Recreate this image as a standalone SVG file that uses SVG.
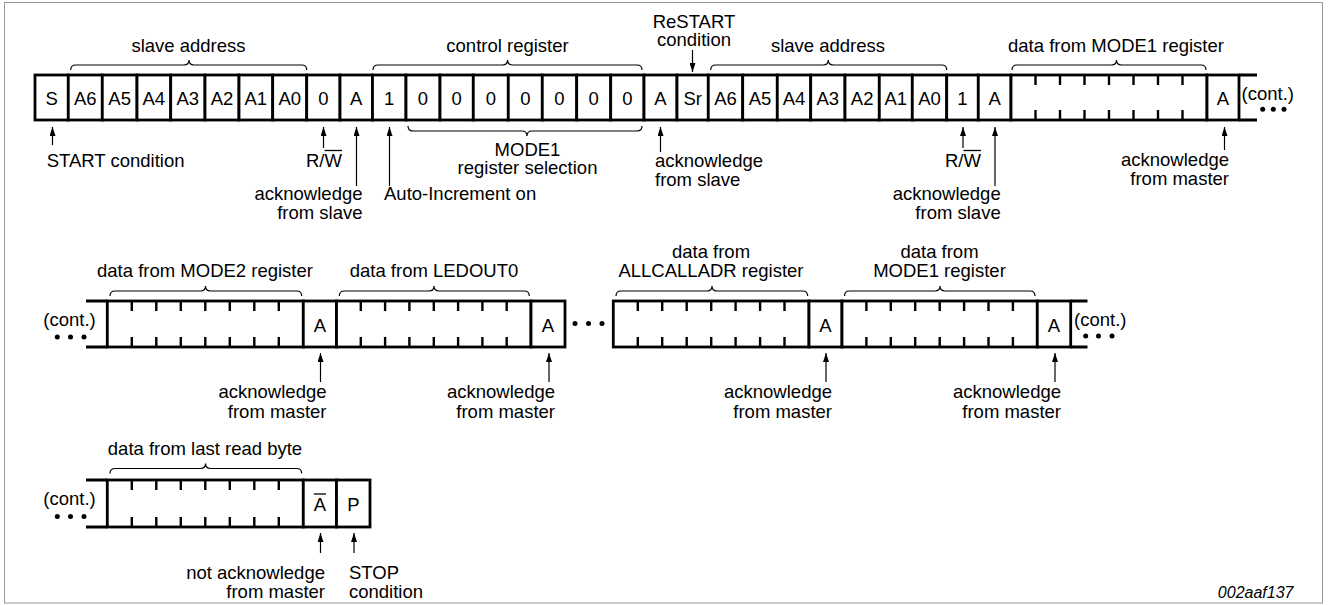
<svg xmlns="http://www.w3.org/2000/svg" width="1328" height="605" viewBox="0 0 1328 605">
<style>
.c{fill:#fff;stroke:#000;stroke-width:2.8}
.ln{stroke:#000;stroke-width:2.8;fill:none}
.tk{stroke:#000;stroke-width:2.4}
.t{font-family:"Liberation Sans",Arial,sans-serif;font-size:18.5px;fill:#000}
.m{text-anchor:middle}
.e{text-anchor:end}
.br{fill:none;stroke:#000;stroke-width:1.2}
.ar{stroke:#000;stroke-width:1.2;fill:none;marker-end:url(#ah)}
.ol{stroke:#000;stroke-width:1.3}
.d{fill:#000}
</style>
<defs>
<marker id="ah" viewBox="0 0 9 6" refX="9" refY="3" markerWidth="9" markerHeight="6" markerUnits="userSpaceOnUse" orient="auto"><path d="M0,0 L9,3 L0,6 z" fill="#000"/></marker>
</defs>
<rect x="4.5" y="2.5" width="1318" height="600.5" fill="#fff" stroke="#999" stroke-width="1"/>

<!-- Row 1 -->
<g id="row1">
<g id="r1-S"><rect class="c" x="35" y="75" width="33.3" height="45"/><text class="t m" x="51.65" y="105">S</text></g>
<g id="r1-A6"><rect class="c" x="68.3" y="75" width="34" height="45"/><text class="t m" x="85.3" y="105">A6</text></g>
<g id="r1-A5"><rect class="c" x="102.3" y="75" width="34.7" height="45"/><text class="t m" x="119.65" y="105">A5</text></g>
<g id="r1-A4"><rect class="c" x="137" y="75" width="33.7" height="45"/><text class="t m" x="153.85" y="105">A4</text></g>
<g id="r1-A3"><rect class="c" x="170.7" y="75" width="34.3" height="45"/><text class="t m" x="187.85" y="105">A3</text></g>
<g id="r1-A2"><rect class="c" x="205" y="75" width="34" height="45"/><text class="t m" x="222" y="105">A2</text></g>
<g id="r1-A1"><rect class="c" x="239" y="75" width="33.7" height="45"/><text class="t m" x="255.85" y="105">A1</text></g>
<g id="r1-A0"><rect class="c" x="272.7" y="75" width="34" height="45"/><text class="t m" x="289.7" y="105">A0</text></g>
<g id="r1-RW"><rect class="c" x="306.7" y="75" width="33.3" height="45"/><text class="t m" x="323.35" y="105">0</text></g>
<g id="r1-Ack1"><rect class="c" x="340" y="75" width="32.5" height="45"/><text class="t m" x="356.25" y="105">A</text></g>
<g id="r1-C7"><rect class="c" x="372.5" y="75" width="33.5" height="45"/><text class="t m" x="389.25" y="105">1</text></g>
<g id="r1-C6"><rect class="c" x="406" y="75" width="34" height="45"/><text class="t m" x="423" y="105">0</text></g>
<g id="r1-C5"><rect class="c" x="440" y="75" width="33.3" height="45"/><text class="t m" x="456.65" y="105">0</text></g>
<g id="r1-C4"><rect class="c" x="473.3" y="75" width="35" height="45"/><text class="t m" x="490.8" y="105">0</text></g>
<g id="r1-C3"><rect class="c" x="508.3" y="75" width="34" height="45"/><text class="t m" x="525.3" y="105">0</text></g>
<g id="r1-C2"><rect class="c" x="542.3" y="75" width="34.4" height="45"/><text class="t m" x="559.5" y="105">0</text></g>
<g id="r1-C1"><rect class="c" x="576.7" y="75" width="34" height="45"/><text class="t m" x="593.7" y="105">0</text></g>
<g id="r1-C0"><rect class="c" x="610.7" y="75" width="33.3" height="45"/><text class="t m" x="627.35" y="105">0</text></g>
<g id="r1-Ack2"><rect class="c" x="644" y="75" width="33" height="45"/><text class="t m" x="660.5" y="105">A</text></g>
<g id="r1-Sr"><rect class="c" x="677" y="75" width="31.3" height="45"/><text class="t m" x="692.65" y="105">Sr</text></g>
<g id="r1-B6"><rect class="c" x="708.3" y="75" width="34.4" height="45"/><text class="t m" x="725.5" y="105">A6</text></g>
<g id="r1-B5"><rect class="c" x="742.7" y="75" width="34.6" height="45"/><text class="t m" x="760" y="105">A5</text></g>
<g id="r1-B4"><rect class="c" x="777.3" y="75" width="33.4" height="45"/><text class="t m" x="794" y="105">A4</text></g>
<g id="r1-B3"><rect class="c" x="810.7" y="75" width="34.3" height="45"/><text class="t m" x="827.85" y="105">A3</text></g>
<g id="r1-B2"><rect class="c" x="845" y="75" width="34.3" height="45"/><text class="t m" x="862.15" y="105">A2</text></g>
<g id="r1-B1"><rect class="c" x="879.3" y="75" width="33" height="45"/><text class="t m" x="895.8" y="105">A1</text></g>
<g id="r1-B0"><rect class="c" x="912.3" y="75" width="34.4" height="45"/><text class="t m" x="929.5" y="105">A0</text></g>
<g id="r1-RW2"><rect class="c" x="946.7" y="75" width="31.6" height="45"/><text class="t m" x="962.5" y="105">1</text></g>
<g id="r1-Ack3"><rect class="c" x="978.3" y="75" width="32.7" height="45"/><text class="t m" x="994.65" y="105">A</text></g>
<g id="r1-Data"><rect class="c" x="1011" y="75" width="196" height="45"/>
<path class="tk" d="M1035.5,75v10M1060,75v10M1084.5,75v10M1109,75v10M1133.5,75v10M1158,75v10M1182.5,75v10M1035.5,120v-10M1060,120v-10M1084.5,120v-10M1109,120v-10M1133.5,120v-10M1158,120v-10M1182.5,120v-10"/></g>
<g id="r1-AckM"><rect class="c" x="1207" y="75" width="32" height="45"/><text class="t m" x="1223" y="105">A</text></g>
<g id="r1-cont"><path class="ln" d="M1239,75H1257M1239,120H1257"/><text class="t" x="1241.5" y="100">(cont.)</text>
<circle class="d" cx="1262.7" cy="109.3" r="2.5"/><circle class="d" cx="1273.3" cy="109.3" r="2.5"/><circle class="d" cx="1284" cy="109.3" r="2.5"/></g>
</g>

<!-- Row 2 -->
<g id="row2">
<g id="r2-contL"><path class="ln" d="M86,301H107.3M86,347H107.3"/><text class="t" x="43.3" y="325.5">(cont.)</text>
<circle class="d" cx="57.3" cy="337" r="2.5"/><circle class="d" cx="70.5" cy="337" r="2.5"/><circle class="d" cx="84" cy="337" r="2.5"/></g>
<g id="r2-Data1"><rect class="c" x="107.3" y="301" width="196" height="46"/>
<path class="tk" d="M131.8,301v10M156.3,301v10M180.8,301v10M205.3,301v10M229.8,301v10M254.3,301v10M278.8,301v10M131.8,347v-10M156.3,347v-10M180.8,347v-10M205.3,347v-10M229.8,347v-10M254.3,347v-10M278.8,347v-10"/></g>
<g id="r2-Ack1"><rect class="c" x="303.3" y="301" width="33.2" height="46"/><text class="t m" x="319.9" y="331.5">A</text></g>
<g id="r2-Data2"><rect class="c" x="336.5" y="301" width="194.5" height="46"/>
<path class="tk" d="M360.8,301v10M385.1,301v10M409.4,301v10M433.8,301v10M458.1,301v10M482.4,301v10M506.7,301v10M360.8,347v-10M385.1,347v-10M409.4,347v-10M433.8,347v-10M458.1,347v-10M482.4,347v-10M506.7,347v-10"/></g>
<g id="r2-Ack2"><rect class="c" x="531" y="301" width="34" height="46"/><text class="t m" x="548" y="331.5">A</text></g>
<g id="r2-dots"><circle class="d" cx="575" cy="323.5" r="2.5"/><circle class="d" cx="588.5" cy="323.5" r="2.5"/><circle class="d" cx="602" cy="323.5" r="2.5"/></g>
<g id="r2-Data3"><rect class="c" x="613.3" y="301" width="195.7" height="46"/>
<path class="tk" d="M637.8,301v10M662.2,301v10M686.7,301v10M711.2,301v10M735.6,301v10M760.1,301v10M784.5,301v10M637.8,347v-10M662.2,347v-10M686.7,347v-10M711.2,347v-10M735.6,347v-10M760.1,347v-10M784.5,347v-10"/></g>
<g id="r2-Ack3"><rect class="c" x="809" y="301" width="33" height="46"/><text class="t m" x="825.5" y="331.5">A</text></g>
<g id="r2-Data4"><rect class="c" x="842" y="301" width="195.3" height="46"/>
<path class="tk" d="M866.4,301v10M890.8,301v10M915.2,301v10M939.7,301v10M964.1,301v10M988.5,301v10M1012.9,301v10M866.4,347v-10M890.8,347v-10M915.2,347v-10M939.7,347v-10M964.1,347v-10M988.5,347v-10M1012.9,347v-10"/></g>
<g id="r2-Ack4"><rect class="c" x="1037.3" y="301" width="33.4" height="46"/><text class="t m" x="1054" y="331.5">A</text></g>
<g id="r2-contR"><path class="ln" d="M1070.7,301H1087.5M1070.7,347H1087.5"/><text class="t" x="1074" y="325.5">(cont.)</text>
<circle class="d" cx="1085.7" cy="336" r="2.5"/><circle class="d" cx="1098.5" cy="336" r="2.5"/><circle class="d" cx="1112" cy="336" r="2.5"/></g>
</g>

<!-- Row 3 -->
<g id="row3">
<g id="r3-contL"><path class="ln" d="M86,480H107.3M86,527H107.3"/><text class="t" x="43.3" y="504.5">(cont.)</text>
<circle class="d" cx="57.3" cy="516.5" r="2.5"/><circle class="d" cx="70.5" cy="516.5" r="2.5"/><circle class="d" cx="84" cy="516.5" r="2.5"/></g>
<g id="r3-Data"><rect class="c" x="107.3" y="480" width="196" height="47"/>
<path class="tk" d="M131.8,480v10M156.3,480v10M180.8,480v10M205.3,480v10M229.8,480v10M254.3,480v10M278.8,480v10M131.8,527v-10M156.3,527v-10M180.8,527v-10M205.3,527v-10M229.8,527v-10M254.3,527v-10M278.8,527v-10"/></g>
<g id="r3-NAck"><rect class="c" x="303.3" y="480" width="33.2" height="47"/><text class="t m" x="319.9" y="511">A</text><line class="ol" x1="313.8" y1="494" x2="326" y2="494"/></g>
<g id="r3-P"><rect class="c" x="336.5" y="480" width="33.5" height="47"/><text class="t m" x="353.3" y="511">P</text></g>
</g>

<!-- Connectors: braces and arrows -->
<g id="connectors">
<path class="br" d="M70.7,70Q70.7,65 75.7,65H184Q189,65 189,60Q189,65 194,65H301.7Q306.7,65 306.7,70"/>
<path class="br" d="M373,70Q373,65 378,65H502.5Q507.5,65 507.5,60Q507.5,65 512.5,65H637Q642,65 642,70"/>
<path class="br" d="M408,126Q408,131 413,131H522Q527,131 527,136Q527,131 532,131H637Q642,131 642,126"/>
<path class="br" d="M710.7,70Q710.7,65 715.7,65H823.3Q828.3,65 828.3,60Q828.3,65 833.3,65H941.7Q946.7,65 946.7,70"/>
<path class="br" d="M1012,70Q1012,65 1017,65H1111.5Q1116.5,65 1116.5,60Q1116.5,65 1121.5,65H1201Q1206,65 1206,70"/>
<path class="br" d="M110,296Q110,291 115,291H200.5Q205.5,291 205.5,286Q205.5,291 210.5,291H296.7Q301.7,291 301.7,296"/>
<path class="br" d="M339.3,296Q339.3,291 344.3,291H429Q434,291 434,286Q434,291 439,291H524.3Q529.3,291 529.3,296"/>
<path class="br" d="M616,296Q616,291 621,291H707Q712,291 712,286Q712,291 717,291H802.7Q807.7,291 807.7,296"/>
<path class="br" d="M844.5,296Q844.5,291 849.5,291H935Q940,291 940,286Q940,291 945,291H1030Q1035,291 1035,296"/>
<path class="br" d="M110,473.5Q110,468.5 115,468.5H200.5Q205.5,468.5 205.5,463.5Q205.5,468.5 210.5,468.5H296.7Q301.7,468.5 301.7,473.5"/>

<line class="ar" x1="52.5" y1="145" x2="52.5" y2="127"/>
<line class="ar" x1="323.5" y1="148" x2="323.5" y2="127"/>
<line class="ar" x1="356.5" y1="186" x2="356.5" y2="127"/>
<line class="ar" x1="389.5" y1="186" x2="389.5" y2="127"/>
<line class="ar" x1="660.5" y1="152" x2="660.5" y2="127"/>
<line class="ar" x1="692.5" y1="50" x2="692.5" y2="72"/>
<line class="ar" x1="963" y1="148" x2="963" y2="127"/>
<line class="ar" x1="995" y1="186" x2="995" y2="127"/>
<line class="ar" x1="1224.5" y1="150" x2="1224.5" y2="127"/>
<line class="ar" x1="320.5" y1="382" x2="320.5" y2="353"/>
<line class="ar" x1="549" y1="382" x2="549" y2="353"/>
<line class="ar" x1="826" y1="382" x2="826" y2="353"/>
<line class="ar" x1="1055" y1="382" x2="1055" y2="353"/>
<line class="ar" x1="320.5" y1="553" x2="320.5" y2="533"/>
<line class="ar" x1="354" y1="553" x2="354" y2="533"/>
</g>

<!-- Labels -->
<g id="labels">
<text class="t m" x="188.5" y="52">slave address</text>
<text class="t m" x="507.5" y="51.5">control register</text>
<text class="t m" x="694" y="27.5">ReSTART</text>
<text class="t m" x="694" y="46">condition</text>
<text class="t m" x="828" y="52">slave address</text>
<text class="t m" x="1116" y="52">data from MODE1 register</text>

<text class="t" x="46.7" y="167">START condition</text>
<text class="t" x="306" y="167">R/W</text><line class="ol" x1="324.5" y1="150.5" x2="342" y2="150.5"/>
<text class="t e" x="362.5" y="200">acknowledge</text>
<text class="t e" x="362.5" y="219">from slave</text>
<text class="t" x="384" y="200">Auto-Increment on</text>
<text class="t m" x="527.5" y="155.5">MODE1</text>
<text class="t m" x="527.5" y="174">register selection</text>
<text class="t" x="655" y="167">acknowledge</text>
<text class="t" x="655" y="186">from slave</text>
<text class="t" x="945" y="167">R/W</text><line class="ol" x1="963.5" y1="150.5" x2="981" y2="150.5"/>
<text class="t e" x="1000.7" y="200">acknowledge</text>
<text class="t e" x="1000.7" y="219">from slave</text>
<text class="t e" x="1229" y="166">acknowledge</text>
<text class="t e" x="1229" y="185">from master</text>

<text class="t m" x="205" y="276.5">data from MODE2 register</text>
<text class="t m" x="434" y="276.5">data from LEDOUT0</text>
<text class="t m" x="711" y="257.5">data from</text>
<text class="t m" x="711" y="276.5">ALLCALLADR register</text>
<text class="t m" x="939.5" y="257.5">data from</text>
<text class="t m" x="939.5" y="276.5">MODE1 register</text>

<text class="t e" x="326.5" y="398">acknowledge</text>
<text class="t e" x="326.5" y="417.5">from master</text>
<text class="t e" x="555" y="398">acknowledge</text>
<text class="t e" x="555" y="417.5">from master</text>
<text class="t e" x="832" y="398">acknowledge</text>
<text class="t e" x="832" y="417.5">from master</text>
<text class="t e" x="1061" y="398">acknowledge</text>
<text class="t e" x="1061" y="417.5">from master</text>

<text class="t m" x="205" y="455">data from last read byte</text>
<text class="t e" x="325" y="579">not acknowledge</text>
<text class="t e" x="325" y="598">from master</text>
<text class="t" x="349" y="579">STOP</text>
<text class="t" x="349" y="598">condition</text>

<text class="e" x="1293.5" y="598" style="font-family:'Liberation Sans',Arial,sans-serif;font-size:16px;font-style:italic">002aaf137</text>
</g>
</svg>
